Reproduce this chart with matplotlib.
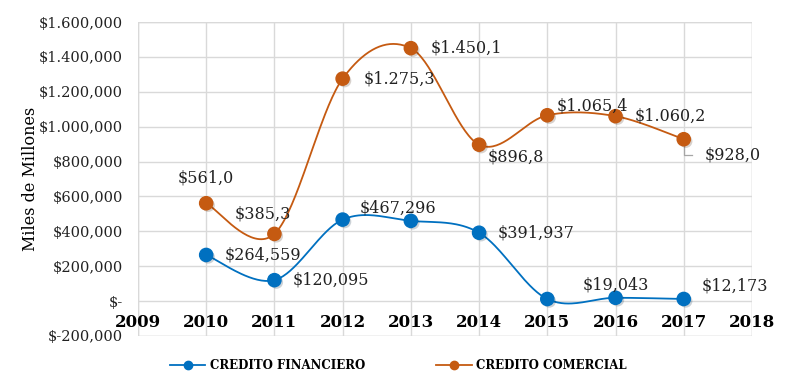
import numpy as np
import matplotlib.pyplot as plt
import matplotlib.patheffects as pe

years = [2010, 2011, 2012, 2013, 2014, 2015, 2016, 2017]
credito_financiero = [264559, 120095, 467296, 460000, 391937, 12000, 19043, 12173]
credito_comercial = [561000, 385300, 1275300, 1450100, 896800, 1065400, 1060200, 928000]

fin_labels = ['$264,559', '$120,095', '$467,296', None, '$391,937', None, '$19,043', '$12,173']
com_labels = ['$561,0', '$385,3', '$1.275,3', '$1.450,1', '$896,8', '$1.065,4', '$1.060,2', '$928,0']

# label offsets in points (dx, dy, ha)
fin_offsets = [(13, 0, 'left'), (13, 0, 'left'), (12, 8, 'left'), None, (13, 0, 'left'),
               None, (0, 9, 'center'), (13, 9, 'left')]
com_offsets = [(0, 18, 'center'), (-8, 14, 'center'), (15, 0, 'left'), (14, 0, 'left'),
               (6, -9, 'left'), (7, 7, 'left'), (14, 0, 'left'), (15, -11, 'left')]

BLUE = '#0070C0'
ORANGE = '#C55A11'
SERIF = 'DejaVu Serif'


def smooth(x, y, n=40):
    '''Bezier smoothing through the points, like Excel's smoothed line.'''
    x = np.asarray(x, float)
    y = np.asarray(y, float)
    px = np.concatenate([[x[0]], x, [x[-1]]])
    py = np.concatenate([[y[0]], y, [y[-1]]])
    xs, ys = [], []
    for i in range(1, len(px) - 2):
        p0 = np.array([px[i - 1], py[i - 1]])
        p1 = np.array([px[i], py[i]])
        p2 = np.array([px[i + 1], py[i + 1]])
        p3 = np.array([px[i + 2], py[i + 2]])
        c1 = p1 + (p2 - p0) / 6
        c2 = p2 - (p3 - p1) / 6
        t = np.linspace(0, 1, n)[:, None]
        pts = ((1 - t) ** 3) * p1 + 3 * ((1 - t) ** 2) * t * c1 + 3 * (1 - t) * t ** 2 * c2 + t ** 3 * p2
        xs.extend(pts[:, 0])
        ys.extend(pts[:, 1])
    return np.array(xs), np.array(ys)


fig = plt.figure(figsize=(7.97, 3.91), dpi=100)
ax = fig.add_axes([0.1731, 0.1407, 0.7704, 0.803])

# must come before tick labels are styled: moving the spine resets the ticks
ax.spines['bottom'].set_position(('data', 0))

for vals, color, name in [(credito_financiero, BLUE, 'CREDITO FINANCIERO'),
                          (credito_comercial, ORANGE, 'CREDITO COMERCIAL')]:
    sx, sy = smooth(years, vals)
    ax.plot(sx, sy, color=color, lw=1.3, zorder=3)
    ax.plot(years, vals, 'o', color=color, ms=9.5, zorder=4,
            path_effects=[pe.SimplePatchShadow(offset=(1.5, -1.5), alpha=0.2), pe.Normal()])
    ax.plot([], [], '-o', color=color, ms=6, lw=1.3, label=name)

for x, v, lab, off in zip(years, credito_financiero, fin_labels, fin_offsets):
    if lab is None:
        continue
    ax.annotate(lab, (x, v), xytext=(off[0], off[1]), textcoords='offset points',
                ha=off[2], va='center', fontsize=11.5, family=SERIF, color='#222222', zorder=5)

for x, v, lab, off in zip(years, credito_comercial, com_labels, com_offsets):
    ax.annotate(lab, (x, v), xytext=(off[0], off[1]), textcoords='offset points',
                ha=off[2], va='center', fontsize=11.5, family=SERIF, color='#222222', zorder=5)

# leader line for last comercial label
ax.plot([2017, 2017, 2017.12], [900000, 835000, 835000], color='#a6a6a6', lw=0.9, zorder=2)

ax.set_xlim(2009, 2018)
ax.set_ylim(-200000, 1600000)
yticks = np.arange(-200000, 1600001, 200000)
ax.set_yticks(yticks)
ylabels = []
for t in yticks:
    if t == 0:
        ylabels.append('$-')
    elif t < 0:
        ylabels.append('$-{:,}'.format(-t))
    else:
        s = '{:,}'.format(t)
        if t >= 1000000:
            s = s.replace(',', '.', 1)
        ylabels.append('$' + s)
ax.set_yticklabels(ylabels, family=SERIF, fontsize=10.5, color='#222222')

ax.set_xticks(range(2009, 2019))
ax.set_xticklabels([str(y) for y in range(2009, 2019)], family=SERIF,
                   fontweight='bold', fontsize=12, color='black')
ax.tick_params(axis='x', length=0, pad=9)
ax.tick_params(axis='y', length=0, pad=11)
for s in ax.spines.values():
    s.set_visible(False)
ax.grid(True, color='#d9d9d9', lw=1)
ax.set_axisbelow(True)
# outer frame
for y in (-200000, 1600000):
    ax.axhline(y, color='#d9d9d9', lw=1, zorder=0)
for x in (2009, 2018):
    ax.axvline(x, color='#d9d9d9', lw=1, zorder=0)

ax.set_ylabel('Miles de Millones', family=SERIF, fontsize=11.5, labelpad=0)

fig.legend(loc='center', bbox_to_anchor=(0.5, 0.066), ncol=2, frameon=False,
           prop={'family': SERIF, 'weight': 'bold', 'size': 8.5},
           columnspacing=6, handlelength=3, handletextpad=0.4)

fig.savefig('out.png', dpi=100)
